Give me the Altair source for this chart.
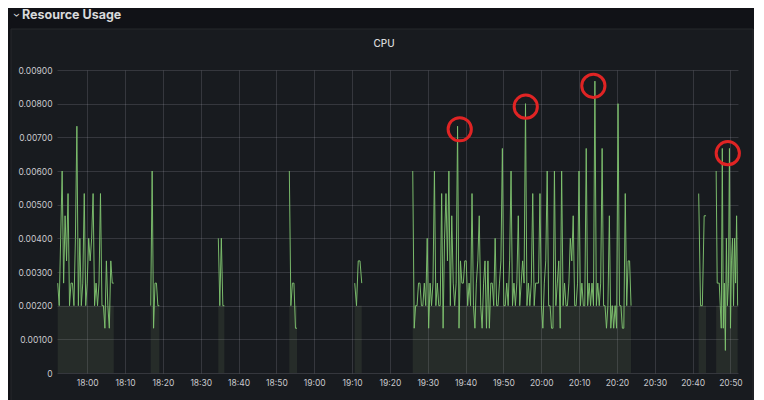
import altair as alt
import pandas as pd

# time is in minutes after midnight (17:52 .. 20:52)
seg_starts = [1072.19, 1096.77, 1114.64, 1133.41, 1150.70, 1166.03, 1241.61, 1246.23]
seg_ends = [1087.00, 1099.04, 1116.23, 1135.44, 1152.55, 1223.73, 1243.54, 1251.90]

seg1 = [0.00267, 0.002, 0.004, 0.006, 0.00267, 0.00467, 0.00333, 0.00533, 0.002, 0.00267,
        0.00267, 0.002, 0.004, 0.00733, 0.002, 0.004, 0.002, 0.00267, 0.00533, 0.002,
        0.00267, 0.004, 0.00333, 0.004, 0.00533, 0.002, 0.00267, 0.002, 0.00267, 0.00533,
        0.002, 0.002, 0.00133, 0.00333, 0.002, 0.00133, 0.00333, 0.00267, 0.00267]
seg2 = [0.002, 0.006, 0.00133, 0.00267, 0.00267, 0.002, 0.002]
seg3 = [0.004, 0.002, 0.004, 0.002, 0.002]
seg4 = [0.006, 0.002, 0.00267, 0.00267, 0.00133, 0.00133]
seg5 = [0.00267, 0.002, 0.00333, 0.00333, 0.00267]
seg6 = [0.006, 0.00133, 0.002, 0.002, 0.00267, 0.00267, 0.002, 0.002, 0.00267, 0.002,
        0.004, 0.00133, 0.00267, 0.002, 0.00267, 0.006, 0.002, 0.00267, 0.002, 0.002,
        0.00533, 0.00133, 0.004, 0.00533, 0.00333, 0.006, 0.002, 0.00467, 0.00267, 0.002,
        0.00267, 0.00733, 0.00133, 0.00333, 0.00267, 0.00267, 0.00333, 0.00333, 0.002, 0.00267,
        0.002, 0.00533, 0.002, 0.00133, 0.00267, 0.00333, 0.00467, 0.002, 0.00133, 0.00267,
        0.00333, 0.00133, 0.00333, 0.00133, 0.00267, 0.00267, 0.002, 0.004, 0.002, 0.002,
        0.00267, 0.00333, 0.00667, 0.002, 0.002, 0.00267, 0.002, 0.00333, 0.006, 0.002,
        0.00267, 0.002, 0.00267, 0.00467, 0.002, 0.00267, 0.00333, 0.00267, 0.008, 0.002,
        0.00267, 0.002, 0.00267, 0.00533, 0.002, 0.00267, 0.00267, 0.00267, 0.00533, 0.002,
        0.00133, 0.00267, 0.00333, 0.006, 0.002, 0.002, 0.00133, 0.00133, 0.006, 0.002,
        0.00267, 0.00333, 0.00133, 0.006,
        0.002, 0.00267, 0.002, 0.002, 0.00267, 0.004, 0.00333, 0.00467, 0.002, 0.002,
        0.00267, 0.006, 0.002, 0.00267, 0.002, 0.002, 0.00667, 0.002, 0.00267, 0.002,
        0.00267, 0.002, 0.00867, 0.002, 0.00267, 0.002, 0.00267, 0.00667, 0.002, 0.002,
        0.00133, 0.002, 0.00467, 0.00133, 0.002, 0.00133, 0.002, 0.00133, 0.008, 0.002,
        0.002, 0.00133, 0.00133, 0.00533, 0.002, 0.00333, 0.00333, 0.002]
seg7 = [0.00533, 0.002, 0.002, 0.00467, 0.00467]
seg8 = [0.006, 0.00267, 0.00267, 0.00267, 0.002, 0.00133, 0.00667, 0.00133, 0.00267, 0.00067,
        0.004, 0.002, 0.00267, 0.00667, 0.00133, 0.00333, 0.004, 0.002, 0.004, 0.00267,
        0.00467, 0.002]
seg_values = [seg1, seg2, seg3, seg4, seg5, seg6, seg7, seg8]
fill_level = 0.002

peak_times = [1178.45, 1195.90, 1213.77, 1249.30]
peak_values = [0.00724, 0.00791, 0.00853, 0.00653]

x_ticks = list(range(1080, 1251, 10))
y_ticks = [0, 0.001, 0.002, 0.003, 0.004, 0.005, 0.006, 0.007, 0.008, 0.009]

rows = []
fill_rows = []
for i, (s, e, vals) in enumerate(zip(seg_starts, seg_ends, seg_values)):
    n = len(vals)
    step = (e - s) / (n - 1)
    for j, v in enumerate(vals):
        rows.append({"t": s + j * step, "v": v, "seg": i})
    fill_rows.append({"t": s, "v": fill_level, "seg": i})
    fill_rows.append({"t": e, "v": fill_level, "seg": i})
line_df = pd.DataFrame(rows)
fill_df = pd.DataFrame(fill_rows)
peaks_df = pd.DataFrame({"t": peak_times, "v": peak_values})

W, H = 681, 303
PAGE_BG = "#111217"
PANEL_BG = "#181b1f"
TXT = "#c8c9cd"
GRID = "#ccccdc"

xs = alt.Scale(domain=[1072, 1252], nice=False, zero=False)
ys = alt.Scale(domain=[0, 0.009], nice=False, zero=True)

x_axis = alt.Axis(values=x_ticks, title=None, grid=True, domain=False, ticks=False, tickSize=0,
                  labelPadding=5, labelFontSize=8.5, labelFont="Inter", labelColor=TXT,
                  gridColor=GRID, gridOpacity=0.16, labelFlush=False,
                  labelExpr="floor(datum.value/60) + ':' + ((datum.value % 60) < 10 ? '0' : '') + (datum.value % 60)")
y_axis = alt.Axis(values=y_ticks, title=None, grid=True, domain=False, ticks=False, tickSize=0,
                  labelPadding=5, labelFontSize=8.5, labelFont="Inter", labelColor=TXT,
                  gridColor=GRID, gridOpacity=0.16,
                  labelExpr="datum.value == 0 ? '0' : format(datum.value, '.5f')")

X = alt.X("t:Q", scale=xs, axis=x_axis)
Y = alt.Y("v:Q", scale=ys, axis=y_axis, stack=None)

one = alt.Data(values=[{"a": 1}])

header = alt.Chart(one).mark_rect(color=PAGE_BG).encode(
    x=alt.value(-49), x2=alt.value(697), y=alt.value(-62), y2=alt.value(-41))
leftstrip = alt.Chart(one).mark_rect(color=PAGE_BG).encode(
    x=alt.value(-49), x2=alt.value(-46), y=alt.value(-41), y2=alt.value(335))
border = alt.Chart(one).mark_rect(filled=False, stroke="#26282d", strokeWidth=1).encode(
    x=alt.value(-46), x2=alt.value(696), y=alt.value(-41), y2=alt.value(345))

area = alt.Chart(fill_df).mark_area(color="#a8c08a", opacity=0.1).encode(
    x=X, y=Y, detail="seg:N")

line = alt.Chart(line_df).mark_line(color="#7ec26f", strokeWidth=1, opacity=0.95).encode(
    x=X, y=Y, detail="seg:N")

peaks = alt.Chart(peaks_df).mark_point(shape="circle", filled=False, color="#e02424",
                                       strokeWidth=3, size=540, opacity=1).encode(
    x=X, y=Y)

title = alt.Chart(one).mark_text(text="Resource Usage", align="left", baseline="alphabetic",
                                 font="Inter", fontSize=12.5, fontWeight="bold",
                                 color="#d8d9da").encode(x=alt.value(-35), y=alt.value(-51))
chev = alt.Chart(one).mark_text(text="›", align="center", baseline="middle", angle=90,
                                font="Inter", fontSize=11, color="#d8d9da").encode(
    x=alt.value(-41.5), y=alt.value(-55))
cpu = alt.Chart(one).mark_text(text="CPU", align="center", baseline="middle",
                               font="Inter", fontSize=10, fontWeight=500,
                               color="#d8d9da").encode(x=alt.value(327), y=alt.value(-26))

chart = alt.layer(header, leftstrip, border, area, line, peaks, title, chev, cpu).properties(
    width=W, height=H,
    padding={"left": 49, "top": 62, "right": 16, "bottom": 27},
    autosize=alt.AutoSizeParams(type="none"),
    background=PANEL_BG,
).configure_view(stroke=None)

chart.save("out.html", embed_options={"renderer": "svg", "actions": False})
